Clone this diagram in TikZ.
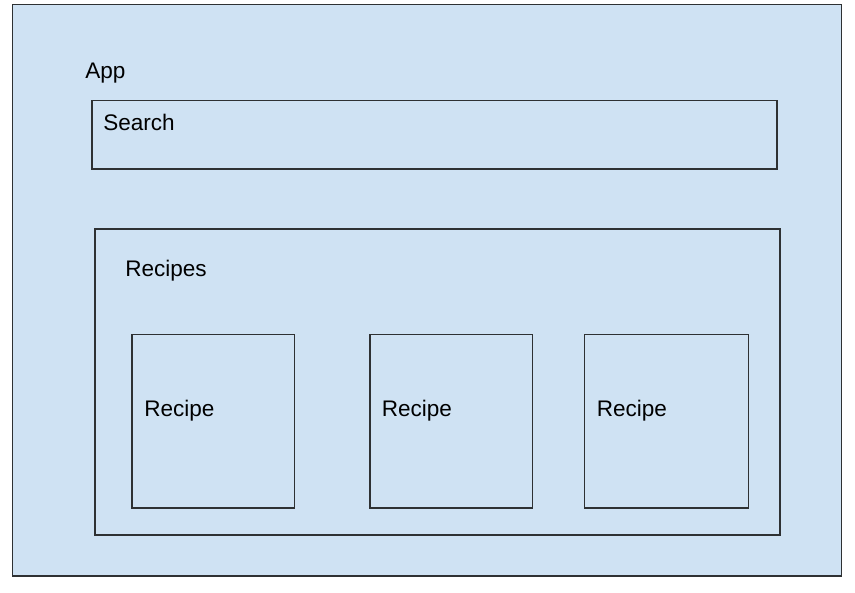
\documentclass[tikz,border=0pt]{standalone}
\usepackage{fontspec}
\setmainfont{Liberation Sans}
\definecolor{paneblue}{HTML}{CFE2F3}
\definecolor{edgegray}{HTML}{2E3133}

\begin{document}
\begin{tikzpicture}[x=0.75pt,y=0.75pt,yscale=-1,xscale=1,
	box/.style={draw=edgegray,line width=1pt},
	lbl/.style={anchor=base west,inner sep=0pt,font=\fontsize{16.9}{20}\selectfont}]
	\useasboundingbox (0,0) rectangle (855,592);
	\draw [box,fill=paneblue] (12.5,4.5) -- (841.5,4.5) -- (841.5,576) -- (12.5,576) -- cycle ;
	\draw [box] (92,100.5) -- (777,100.5) -- (777,169) -- (92,169) -- cycle ;
	\draw [box] (95,229) -- (780,229) -- (780,535) -- (95,535) -- cycle ;
	\draw [box] (132,334.5) -- (294.5,334.5) -- (294.5,508) -- (132,508) -- cycle ;
	\draw [box] (370,334.5) -- (532.5,334.5) -- (532.5,508) -- (370,508) -- cycle ;
	\draw [box] (584.5,334.5) -- (748.5,334.5) -- (748.5,508) -- (584.5,508) -- cycle ;
	\node (app) [lbl] at (85,79) {App};
	\node (search) [lbl] at (103,130) {Search};
	\node (recipes) [lbl] at (125,276.5) {Recipes};
	\node (recipeA) [lbl] at (144,416) {Recipe};
	\node (recipeB) [lbl] at (381.5,416) {Recipe};
	\node (recipeC) [lbl] at (596.5,416) {Recipe};
\end{tikzpicture}
\end{document}
